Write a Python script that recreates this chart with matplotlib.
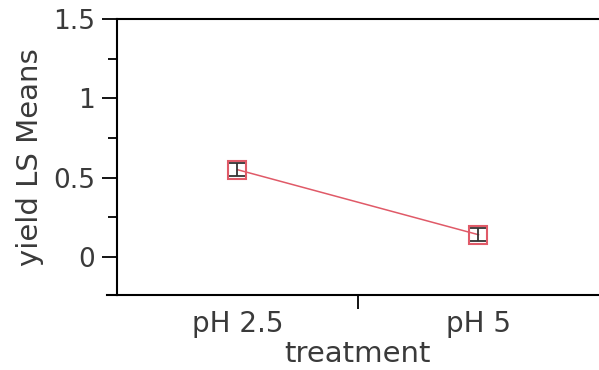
# LS means plot: yield by treatment
import matplotlib
matplotlib.use("Agg")
import matplotlib.pyplot as plt
from matplotlib.lines import Line2D

# data
treatments = ["pH 2.5", "pH 5"]
ls_means = [0.55, 0.14]
std_errs = [0.04, 0.04]

plt.rcParams['font.family'] = ['DejaVu Sans']

fig = plt.figure(figsize=(5.99, 3.70), dpi=100)
ax = fig.add_axes([0.1953, 0.2027, 0.8047, 0.7459])

x = list(range(len(treatments)))
red = '#e05a68'

# connecting line + open squares
ax.plot(x, ls_means, color=red, lw=1.1, zorder=2)
ax.errorbar(x, ls_means, yerr=std_errs, fmt='none', ecolor='#333333',
            elinewidth=1.3, capsize=5.5, capthick=1.3, zorder=3)
ax.plot(x, ls_means, ls='none', marker='s', markersize=13,
        markerfacecolor='none', markeredgecolor=red, markeredgewidth=1.5, zorder=4)

ax.set_xlim(-0.5, 1.5)
ax.set_ylim(-0.24, 1.5)

# y axis ticks
ax.set_yticks([0, 0.5, 1, 1.5])
ax.set_yticklabels(["0", "0.5", "1", "1.5"])
ax.set_yticks([0.25, 0.75, 1.25], minor=True)
ax.tick_params(axis='y', which='major', length=11, width=1.3, pad=5,
               labelsize=19, labelcolor='#3a3a3a')
ax.tick_params(axis='y', which='minor', length=6.5, width=1.3)

# x axis: labels without ticks, separator tick between categories
ax.set_xticks(x)
ax.set_xticklabels(treatments)
ax.set_xticks([0.5], minor=True)
ax.tick_params(axis='x', which='major', length=0, pad=11,
               labelsize=20, labelcolor='#3a3a3a')
ax.tick_params(axis='x', which='minor', length=10, width=1.3)

ax.set_xlabel("treatment", fontsize=21, color='#3a3a3a', labelpad=1)
ax.set_ylabel("yield LS Means", fontsize=21, color='#3a3a3a', labelpad=6)

for s in ['left', 'bottom', 'top']:
    ax.spines[s].set_linewidth(1.5)
ax.spines['right'].set_visible(False)

# bottom axis line sticks out a little to the left
ax.add_line(Line2D([-0.02, 0], [0, 0], transform=ax.transAxes,
                   color='black', lw=1.5, clip_on=False))

fig.savefig("out.png", dpi=100)
